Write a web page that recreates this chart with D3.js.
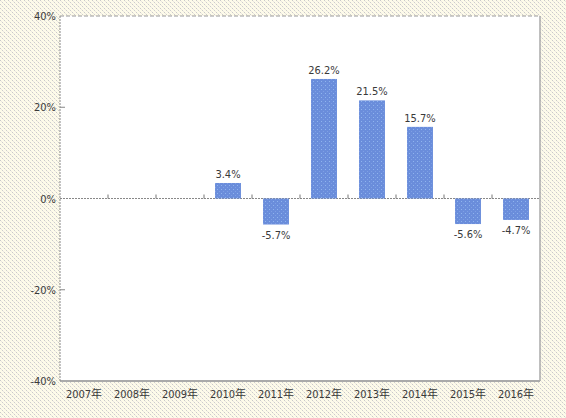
<!DOCTYPE html>
<html>
<head>
<meta charset="utf-8">
<script src="https://cdn.jsdelivr.net/npm/d3@7/dist/d3.min.js"></script>
<style>
  body { margin: 0; padding: 0; background: #fff; }
  svg text { font-family: "DejaVu Sans Condensed", "DejaVu Sans", "Noto Sans CJK JP", sans-serif; font-stretch: condensed; fill: #3a3a3a; }
</style>
</head>
<body>
<svg id="chart" width="566" height="418"></svg>
<script>
const years = ['2007年', '2008年', '2009年', '2010年', '2011年', '2012年', '2013年', '2014年', '2015年', '2016年'];
const growth = [null, null, null, 3.4, -5.7, 26.2, 21.5, 15.7, -5.6, -4.7];
const yTicks = [-40, -20, 0, 20, 40];

const svg = d3.select('#chart');
const width = +svg.attr('width');
const height = +svg.attr('height');
const margin = { top: 16, right: 26, bottom: 37, left: 60 };
const innerWidth = width - margin.left - margin.right;
const innerHeight = height - margin.top - margin.bottom;

// background hatch + bar dot patterns
const defs = svg.append('defs');
const bg = defs.append('pattern').attr('id', 'bgHatch')
    .attr('width', 4).attr('height', 4).attr('patternUnits', 'userSpaceOnUse');
bg.append('rect').attr('width', 4).attr('height', 4).attr('fill', '#fdfbe9');
bg.append('rect').attr('x', 0).attr('y', 0).attr('width', 1).attr('height', 1).attr('fill', '#c9c9c9');
bg.append('rect').attr('x', 2).attr('y', 2).attr('width', 1).attr('height', 1).attr('fill', '#cdcdcd');
bg.append('rect').attr('x', 1).attr('y', 1).attr('width', 1).attr('height', 1).attr('fill', '#ece4e4');
bg.append('rect').attr('x', 3).attr('y', 3).attr('width', 1).attr('height', 1).attr('fill', '#eee6e6');

const dots = defs.append('pattern').attr('id', 'barDots')
    .attr('width', 4).attr('height', 4).attr('patternUnits', 'userSpaceOnUse');
dots.append('rect').attr('width', 4).attr('height', 4).attr('fill', '#6a8ddb');
dots.append('rect').attr('x', 1).attr('y', 1).attr('width', 1).attr('height', 1).attr('fill', '#8fb4ee');
dots.append('rect').attr('x', 3).attr('y', 3).attr('width', 1).attr('height', 1).attr('fill', '#7e9fe4');

svg.append('rect').attr('width', width).attr('height', height).attr('fill', 'url(#bgHatch)');

const g = svg.append('g')
    .attr('transform', `translate(${margin.left},${margin.top})`);

const x = d3.scaleBand()
    .domain(years)
    .range([0, innerWidth])
    .paddingInner(0.46)
    .paddingOuter(0.23);

const y = d3.scaleLinear()
    .domain([-40, 40])
    .range([innerHeight, 0]);

// plot area
g.append('rect')
    .attr('width', innerWidth).attr('height', innerHeight)
    .attr('fill', '#fff');

// frame
g.append('line').attr('x1', 0).attr('x2', innerWidth).attr('y1', 0).attr('y2', 0)
    .attr('stroke', '#999').attr('stroke-dasharray', '4,2');
g.append('line').attr('x1', innerWidth).attr('x2', innerWidth).attr('y1', 0).attr('y2', innerHeight)
    .attr('stroke', '#aaa').attr('stroke-width', 1.5);
g.append('line').attr('x1', 0).attr('x2', innerWidth).attr('y1', innerHeight).attr('y2', innerHeight)
    .attr('stroke', '#aaa').attr('stroke-width', 2);
g.append('line').attr('x1', 0).attr('x2', 0).attr('y1', 0).attr('y2', innerHeight)
    .attr('stroke', '#888').attr('stroke-dasharray', '2,1');

// y axis
const yAxis = g.append('g')
    .call(d3.axisLeft(y).tickValues(yTicks).tickSize(0).tickPadding(4).tickFormat(d => d + '%'));
yAxis.select('.domain').remove();
yAxis.selectAll('text').style('font-size', '11px').attr('font-family', null);

// small inner ticks at ±20
g.selectAll('.ytick')
    .data(yTicks.filter(d => d !== 0 && Math.abs(d) !== 40))
    .enter().append('line')
    .attr('x1', 0).attr('x2', 5)
    .attr('y1', d => y(d)).attr('y2', d => y(d))
    .attr('stroke', '#888');

// zero line
g.append('line')
    .attr('x1', 0).attr('x2', innerWidth)
    .attr('y1', y(0)).attr('y2', y(0))
    .attr('stroke', '#888').attr('stroke-dasharray', '2,1');

// category boundary ticks on zero line
const gap = (x.step() - x.bandwidth()) / 2;
g.selectAll('.ctick')
    .data(years.slice(1))
    .enter().append('line')
    .attr('x1', d => x(d) - gap)
    .attr('x2', d => x(d) - gap)
    .attr('y1', y(0)).attr('y2', y(0) - 4)
    .attr('stroke', '#777');

// bars
const data = years.map((yr, i) => ({ year: yr, value: growth[i] })).filter(d => d.value !== null);

g.selectAll('.bar')
    .data(data)
    .enter().append('rect')
    .attr('x', d => x(d.year))
    .attr('width', x.bandwidth())
    .attr('y', d => y(Math.max(0, d.value)))
    .attr('height', d => Math.abs(y(d.value) - y(0)))
    .attr('fill', 'url(#barDots)');

// value labels
g.selectAll('.vlabel')
    .data(data)
    .enter().append('text')
    .attr('x', d => x(d.year) + x.bandwidth() / 2)
    .attr('y', d => d.value >= 0 ? y(d.value) - 5 : y(d.value) + 14)
    .attr('text-anchor', 'middle')
    .style('font-size', '11px')
    .text(d => d.value.toFixed(1) + '%');

// x labels
g.selectAll('.xlabel')
    .data(years)
    .enter().append('text')
    .attr('x', d => x(d) + x.bandwidth() / 2)
    .attr('y', innerHeight + 17)
    .attr('text-anchor', 'middle')
    .style('font-size', '11px')
    .text(d => d);
</script>
</body>
</html>
